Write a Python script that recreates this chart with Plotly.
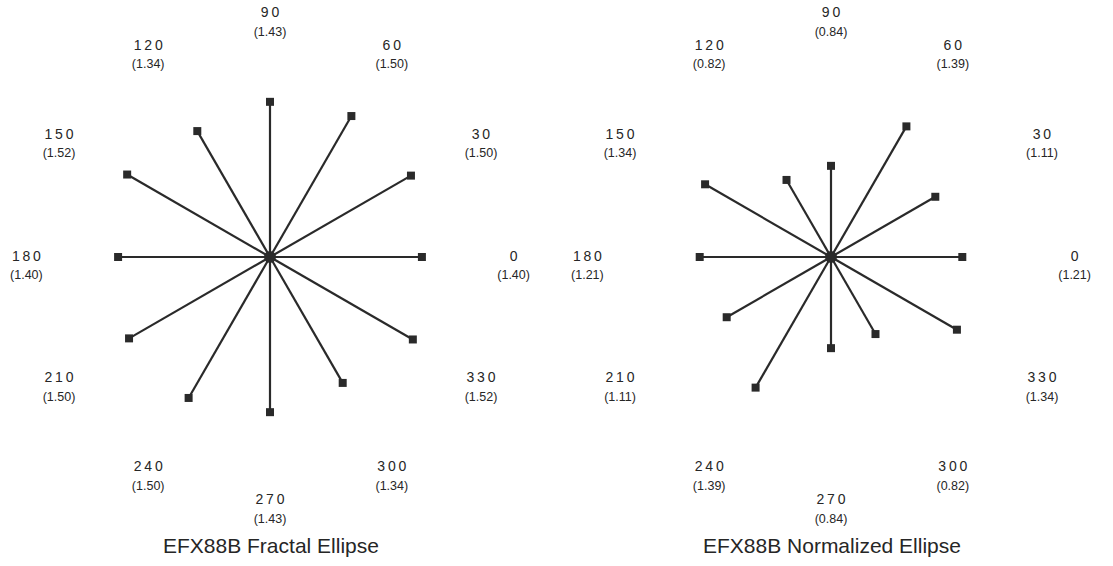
import plotly.graph_objects as go

# Spoke directions in degrees
angles = [0, 30, 60, 90, 120, 150, 180, 210, 240, 270, 300, 330]

# Ellipse measures for each direction
fractal_values = [1.40, 1.50, 1.50, 1.43, 1.34, 1.52, 1.40, 1.50, 1.50, 1.43, 1.34, 1.52]
normalized_values = [1.21, 1.11, 1.39, 0.84, 0.82, 1.34, 1.21, 1.11, 1.39, 0.84, 0.82, 1.34]

titles = ["EFX88B Fractal Ellipse", "EFX88B Normalized Ellipse"]

LABEL_R = 2.245
R_MAX = 2.35
INK = "#2a2a2a"
TEXT = "#262626"
FONT = "Liberation Sans, Arial, sans-serif"

fig = go.Figure()

panels = [("polar", fractal_values), ("polar2", normalized_values)]
for subplot, vals in panels:
    # spokes from the centre to each value
    r_lines, t_lines = [], []
    for a, v in zip(angles, vals):
        r_lines += [0, v, None]
        t_lines += [a, a, None]
    fig.add_trace(go.Scatterpolar(
        r=r_lines, theta=t_lines, mode="lines",
        line=dict(color=INK, width=2.2), subplot=subplot,
        hoverinfo="skip", showlegend=False))
    # square end markers
    fig.add_trace(go.Scatterpolar(
        r=vals, theta=angles, mode="markers",
        marker=dict(symbol="square", size=8, color=INK),
        subplot=subplot, showlegend=False))
    # hub
    fig.add_trace(go.Scatterpolar(
        r=[0], theta=[0], mode="markers",
        marker=dict(symbol="circle", size=12, color=INK),
        subplot=subplot, hoverinfo="skip", showlegend=False))
    # direction labels
    fig.add_trace(go.Scatterpolar(
        r=[LABEL_R] * len(angles), theta=angles, mode="text",
        text=["&#8201;".join(str(a)) for a in angles], textposition="middle center",
        textfont=dict(family=FONT, size=14, color=TEXT),
        cliponaxis=False, subplot=subplot, hoverinfo="skip", showlegend=False))
    # value labels under each direction (transparent marker sets the gap)
    fig.add_trace(go.Scatterpolar(
        r=[LABEL_R] * len(angles), theta=angles, mode="markers+text",
        marker=dict(size=19, color="rgba(0,0,0,0)"),
        text=[f"({v:.2f})" for v in vals], textposition="bottom center",
        textfont=dict(family=FONT, size=12.5, color=TEXT),
        cliponaxis=False, subplot=subplot, hoverinfo="skip", showlegend=False))

polar_common = dict(
    bgcolor="white",
    radialaxis=dict(range=[0, R_MAX], visible=False, showgrid=False),
    angularaxis=dict(visible=False, showgrid=False, rotation=0, direction="counterclockwise"),
)

W, H = 1113, 566
rad = 255
def dom(cx, cy):
    return dict(x=[(cx - rad) / W, (cx + rad) / W],
                y=[(H - cy - rad) / H, (H - cy + rad) / H])

fig.update_layout(
    width=W, height=H,
    margin=dict(l=0, r=0, t=0, b=0),
    paper_bgcolor="white", plot_bgcolor="white",
    polar=dict(domain=dom(270, 257), **polar_common),
    polar2=dict(domain=dom(831, 257), **polar_common),
    font=dict(family=FONT, color=TEXT),
    annotations=[
        dict(text=titles[0], x=271 / W, y=(H - 545) / H, xref="paper", yref="paper",
             xanchor="center", yanchor="middle", showarrow=False,
             font=dict(size=21, family=FONT, color=TEXT)),
        dict(text=titles[1], x=832 / W, y=(H - 545) / H, xref="paper", yref="paper",
             xanchor="center", yanchor="middle", showarrow=False,
             font=dict(size=21, family=FONT, color=TEXT)),
    ],
)

fig.write_html("out.html")
